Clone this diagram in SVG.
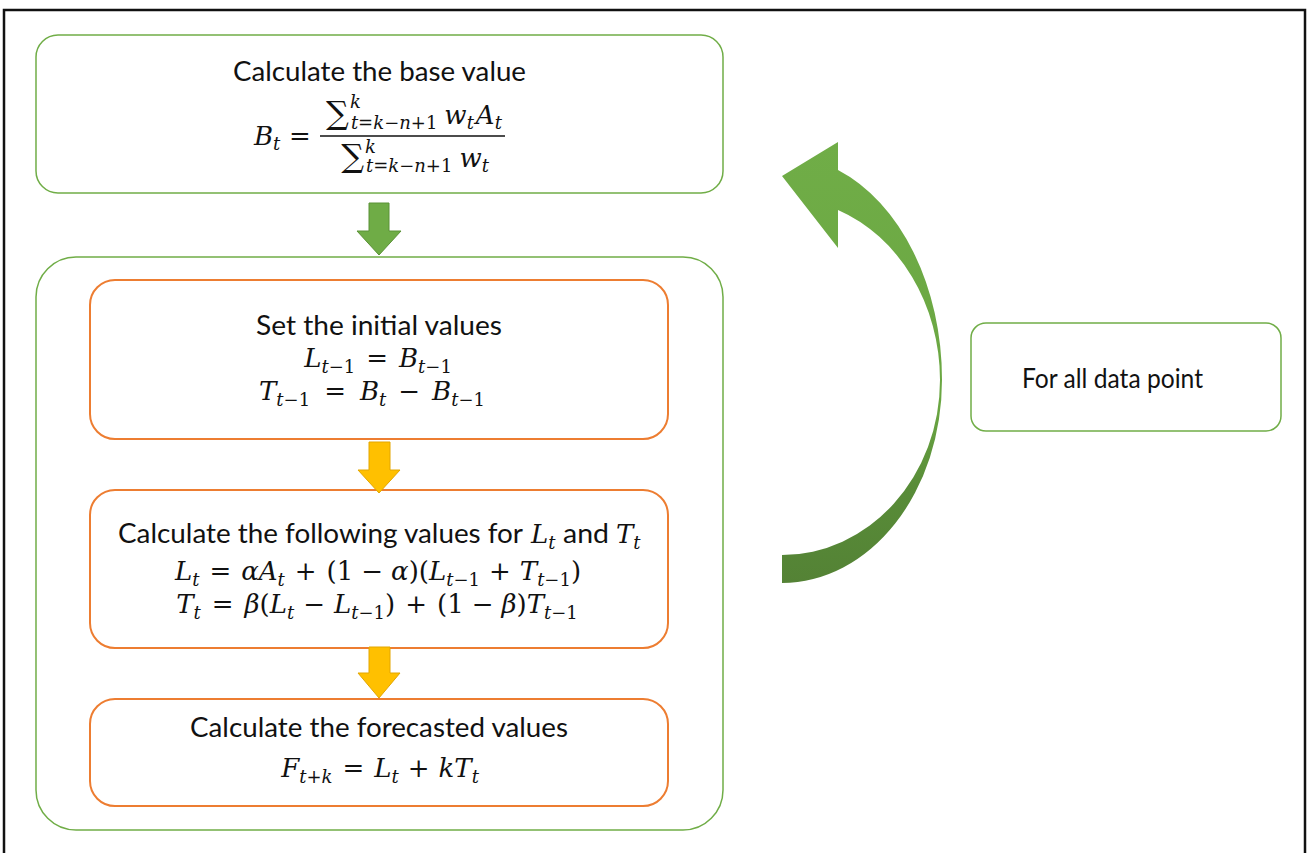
<svg xmlns="http://www.w3.org/2000/svg" width="1307" height="853" viewBox="0 0 1307 853">
<style>
.frame{fill:none;stroke:#111;stroke-width:2.5}
.g{fill:#fff;stroke:#70AD47;stroke-width:1.5}
.o{fill:#fff;stroke:#ED7D31;stroke-width:2}
.t{font-family:Lato,"Liberation Sans",sans-serif;font-size:27px;fill:#111}
.m{font-family:"DejaVu Serif","Liberation Serif",serif;font-style:italic;font-size:26px;fill:#111}
.s{font-size:18px}
.u{font-style:normal}
.sum{font-style:normal;font-size:32px}
.ga{fill:#6FAC46;stroke:#5A9236;stroke-width:1}
.ya{fill:#FFC000;stroke:#E3A600;stroke-width:1}
</style>
<defs>
<linearGradient id="cg" gradientUnits="userSpaceOnUse" x1="0" y1="140" x2="0" y2="585">
<stop offset="0" stop-color="#70AD47"/>
<stop offset="0.6" stop-color="#6AA642"/>
<stop offset="0.78" stop-color="#588C38"/>
<stop offset="1" stop-color="#548235"/>
</linearGradient>
</defs>
<rect width="1307" height="853" fill="#fff"/>
<rect class="frame" x="4" y="10" width="1301" height="850"/>

<g id="base-value">
<rect class="g" x="36" y="35" width="687" height="158" rx="22"/>
<text class="t" x="233" y="81" textLength="293" lengthAdjust="spacingAndGlyphs">Calculate the base value</text>
<text class="m" x="254" y="145">B<tspan class="s" dy="5">t</tspan></text>
<text class="m u" x="300" y="145" text-anchor="middle">=</text>
<line x1="320" y1="136" x2="505" y2="136" stroke="#111" stroke-width="1.4"/>
<text class="m" x="414" y="124" text-anchor="middle"><tspan class="sum">∑</tspan><tspan class="s" dx="1" dy="-16">k</tspan><tspan class="s" dx="-10" dy="21">t<tspan class="u">=</tspan>k<tspan class="u">−</tspan>n<tspan class="u">+1</tspan></tspan><tspan dx="7" dy="-5">w</tspan><tspan class="s" dy="5">t</tspan><tspan dx="2" dy="-5">A</tspan><tspan class="s" dy="5">t</tspan></text>
<text class="m" x="415" y="167" text-anchor="middle"><tspan class="sum">∑</tspan><tspan class="s" dx="1" dy="-14">k</tspan><tspan class="s" dx="-10" dy="19">t<tspan class="u">=</tspan>k<tspan class="u">−</tspan>n<tspan class="u">+1</tspan></tspan><tspan dx="7" dy="-5">w</tspan><tspan class="s" dy="5">t</tspan></text>
</g>

<g id="loop-container">
<rect class="g" x="36" y="257" width="687" height="573" rx="40"/>
</g>

<g id="initial-values">
<rect class="o" x="90" y="280" width="578" height="159" rx="25"/>
<text class="t" x="256" y="335" textLength="246" lengthAdjust="spacingAndGlyphs">Set the initial values</text>
<text class="m" x="378" y="367" text-anchor="middle">L<tspan class="s" dy="6">t<tspan class="u">−1</tspan></tspan><tspan class="u" dx="11" dy="-6">=</tspan><tspan dx="11">B</tspan><tspan class="s" dy="6">t<tspan class="u">−1</tspan></tspan></text>
<text class="m" x="372" y="400" text-anchor="middle">T<tspan class="s" dy="6">t<tspan class="u">−1</tspan></tspan><tspan class="u" dx="14" dy="-6">=</tspan><tspan dx="14">B</tspan><tspan class="s" dy="6">t</tspan><tspan class="u" dx="12" dy="-6">−</tspan><tspan dx="12">B</tspan><tspan class="s" dy="6">t<tspan class="u">−1</tspan></tspan></text>
</g>

<g id="following-values">
<rect class="o" x="90" y="490" width="578" height="158" rx="25"/>
<text class="t" x="118" y="543" textLength="405" lengthAdjust="spacingAndGlyphs">Calculate the following values for</text>
<text class="m" x="531" y="543">L<tspan class="s" dy="6">t</tspan></text>
<text class="t" x="563" y="543" textLength="46" lengthAdjust="spacingAndGlyphs">and</text>
<text class="m" x="616" y="543">T<tspan class="s" dy="6">t</tspan></text>
<text class="m" x="378" y="580" text-anchor="middle">L<tspan class="s" dy="6">t</tspan><tspan class="u" dx="10" dy="-6">=</tspan><tspan dx="10">αA</tspan><tspan class="s" dy="6">t</tspan><tspan class="u" dx="10" dy="-6">+</tspan><tspan class="u" dx="10">(1</tspan><tspan class="u" dx="8">−</tspan><tspan dx="8">α</tspan><tspan class="u">)(</tspan>L<tspan class="s" dy="6">t<tspan class="u">−1</tspan></tspan><tspan class="u" dx="9" dy="-6">+</tspan><tspan dx="9">T</tspan><tspan class="s" dy="6">t<tspan class="u">−1</tspan></tspan><tspan class="u" dy="-6">)</tspan></text>
<text class="m" x="377" y="613" text-anchor="middle">T<tspan class="s" dy="6">t</tspan><tspan class="u" dx="11" dy="-6">=</tspan><tspan dx="11">β</tspan><tspan class="u">(</tspan>L<tspan class="s" dy="6">t</tspan><tspan class="u" dx="9" dy="-6">−</tspan><tspan dx="9">L</tspan><tspan class="s" dy="6">t<tspan class="u">−1</tspan></tspan><tspan class="u" dy="-6">)</tspan><tspan class="u" dx="10">+</tspan><tspan class="u" dx="10">(1</tspan><tspan class="u" dx="8">−</tspan><tspan dx="8">β</tspan><tspan class="u">)</tspan>T<tspan class="s" dy="6">t<tspan class="u">−1</tspan></tspan></text>
</g>

<g id="forecast">
<rect class="o" x="90" y="699" width="578" height="107" rx="25"/>
<text class="t" x="190" y="737" textLength="378" lengthAdjust="spacingAndGlyphs">Calculate the forecasted values</text>
<text class="m" x="380" y="777" text-anchor="middle">F<tspan class="s" dy="6">t<tspan class="u">+</tspan>k</tspan><tspan class="u" dx="10" dy="-6">=</tspan><tspan dx="10">L</tspan><tspan class="s" dy="6">t</tspan><tspan class="u" dx="9" dy="-6">+</tspan><tspan dx="9">kT</tspan><tspan class="s" dy="6">t</tspan></text>
</g>

<g id="all-data-points">
<rect class="g" x="971" y="323" width="310" height="108" rx="15"/>
<text class="t" x="1022" y="388" textLength="181" lengthAdjust="spacingAndGlyphs">For all data point</text>
</g>

<g id="connectors">
<polygon class="ga" points="369,203 389,203 389,231 401,231 379,255 357,231 369,231"/>
<polygon class="ya" points="369,442 390,442 390,470 400,470 379,493 358,470 369,470"/>
<polygon class="ya" points="369,647 390,647 390,673 400,673 379,698 358,673 369,673"/>
<path fill="url(#cg)" d="M 782 583 A 160 203 0 0 0 942 380 A 160 224 0 0 0 838 170 L 838 142 L 782 176 L 838 248 L 838 210 A 158 182 0 0 1 940 380 A 158 175 0 0 1 782 555 Z"/>
</g>
</svg>
